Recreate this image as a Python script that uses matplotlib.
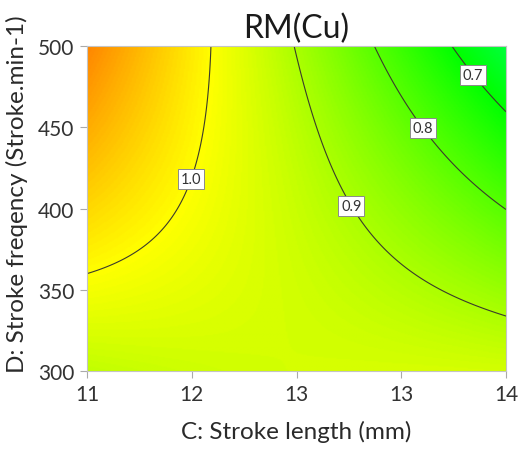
import numpy as np
import matplotlib
matplotlib.use("Agg")
from matplotlib import pyplot as plt
from matplotlib.colors import LinearSegmentedColormap, Normalize

plt.rcParams["font.family"] = ["Lato", "DejaVu Sans"]

# fitted quadratic model for RM(Cu) in coded factors
# A = (stroke length - 12.5) / 1.5, B = (stroke frequency - 400) / 100
coef_names = ["Intercept", "C", "D", "CD", "C^2", "D^2"]
coef_values = [0.934, -0.123, -0.026, -0.134, -0.012, -0.011]

length_range = [11, 14]
freq_range = [300, 500]
contour_levels = [0.7, 0.8, 0.9, 1.0]
label_spots = [(13.73, 480), (13.46, 453), (12.88, 401), (11.68, 420)]

x_ticks = [11, 11.75, 12.5, 13.25, 14]
x_tick_labels = ["11", "12", "13", "13", "14"]
y_ticks = [300, 350, 400, 450, 500]


def rm_cu(x, y):
    a = (x - 12.5) / 1.5
    b = (y - 400) / 100
    c = dict(zip(coef_names, coef_values))
    return (c["Intercept"] + c["C"] * a + c["D"] * b + c["CD"] * a * b
            + c["C^2"] * a ** 2 + c["D^2"] * b ** 2)


xs = np.linspace(length_range[0], length_range[1], 300)
ys = np.linspace(freq_range[0], freq_range[1], 300)
X, Y = np.meshgrid(xs, ys)
Z = rm_cu(X, Y)

# design-expert style blue-cyan-green-yellow-red scale
cmap = LinearSegmentedColormap.from_list(
    "de", ["#0000ff", "#00ffff", "#00ff00", "#ffff00", "#ff0000"])
norm = Normalize(vmin=0.1, vmax=1.3)

fig = plt.figure(figsize=(5.18, 4.6), dpi=100)
ax = fig.add_axes([0.168, 0.191, 0.809, 0.707])

ax.imshow(Z, extent=(xs[0], xs[-1], ys[0], ys[-1]), origin="lower",
          cmap=cmap, norm=norm, aspect="auto", interpolation="bilinear")
cs = ax.contour(X, Y, Z, levels=contour_levels, colors="#3b3b2c", linewidths=0.8)
labels = ax.clabel(cs, fmt="%.1f", fontsize=10.5, colors="#333333",
                   manual=label_spots, inline=False)
for t in labels:
    t.set_rotation(0)
    t.set_zorder(5)
    t.set_bbox(dict(facecolor="white", edgecolor="#8a8a8a", linewidth=0.7,
                    boxstyle="square,pad=0.2"))

ax.set_xlim(length_range)
ax.set_ylim(freq_range)
ax.set_xticks(x_ticks)
ax.set_xticklabels(x_tick_labels)
ax.set_yticks(y_ticks)
ax.tick_params(direction="out", length=5, width=0.8, color="#aaaaaa",
               labelsize=15, labelcolor="#333333", pad=4)
for s in ax.spines.values():
    s.set_color("#c4c4c4")
    s.set_linewidth(0.8)

ax.set_title("RM(Cu)", fontsize=23, color="#1a1a1a", pad=6)
ax.set_xlabel("C: Stroke length (mm)", fontsize=17.5, color="#2a2a2a")
ax.set_ylabel("D: Stroke freqency (Stroke.min-1)", fontsize=17.5, color="#2a2a2a")
ax.xaxis.set_label_coords(0.5, -0.15)
ax.yaxis.set_label_coords(-0.14, 0.548)

fig.savefig("out.png", dpi=100)
